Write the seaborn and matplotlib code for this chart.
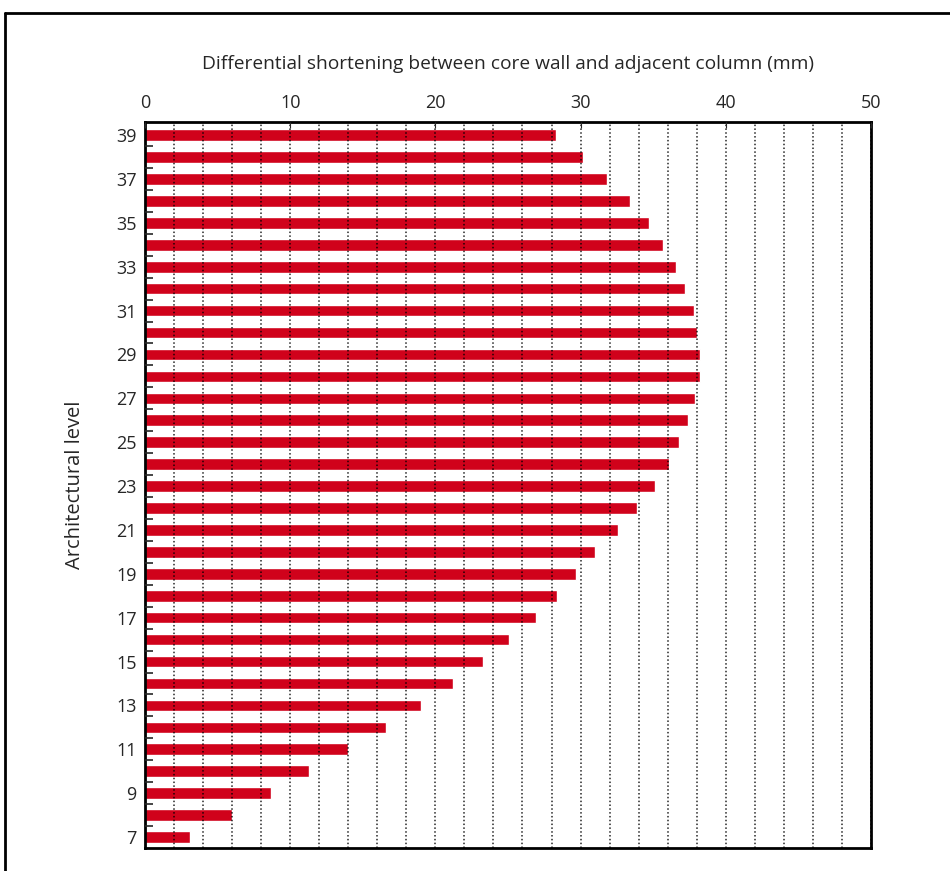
import numpy as np
import matplotlib.pyplot as plt
import pandas as pd
import seaborn as sns
from matplotlib.lines import Line2D


# data (top level 39 down to level 7)
levels = list(range(39, 6, -1))
shortening_mm = [28.3, 30.2, 31.8, 33.4, 34.7, 35.7, 36.6, 37.2, 37.8, 38.0,
                 38.2, 38.2, 37.9, 37.4, 36.8, 36.1, 35.1, 33.9, 32.6, 31.0,
                 29.7, 28.4, 26.9, 25.1, 23.3, 21.2, 19.0, 16.6, 14.0, 11.3,
                 8.7, 6.0, 3.1]
x_ticks = [0, 10, 20, 30, 40, 50]

df = pd.DataFrame({"level": [str(l) for l in levels], "mm": shortening_mm})

sns.set_style("white")
plt.rcParams["font.family"] = ["Open Sans", "DejaVu Sans"]

fig = plt.figure(figsize=(9.5, 8.71), dpi=100)
ax = fig.add_axes([0.1526, 0.0264, 0.9168 - 0.1526, 0.860 - 0.0264])

sns.barplot(x="mm", y="level", data=df, order=df["level"], orient="h",
            color="#d0021b", saturation=1, width=0.53, ax=ax, zorder=2)

# x axis on top, dotted grid every 2 mm
ax.set_xlim(0, 50)
ax.xaxis.tick_top()
ax.xaxis.set_label_position("top")
ax.set_xticks(x_ticks)
ax.set_xticks(np.arange(2, 50, 2), minor=True)
ax.grid(True, axis="x", which="both", color="black", linestyle=(0, (1, 1.5)),
        linewidth=1.1, alpha=0.85, zorder=3)
ax.set_axisbelow(False)
ax.tick_params(axis="x", which="major", direction="in", length=4, pad=7,
               labelsize=13, top=True, bottom=False)
ax.tick_params(axis="x", which="minor", length=0)
ax.set_xlabel("Differential shortening between core wall and adjacent column (mm)",
              fontsize=13.8, labelpad=18)

# y axis: labels on odd levels, small inward ticks between levels
n = len(levels)
ax.set_ylim(n - 0.5, -0.6)
ax.set_yticks([i for i, l in enumerate(levels) if l % 2 == 1])
ax.set_yticklabels([str(l) for l in levels if l % 2 == 1])
ax.set_yticks(np.arange(0.5, n - 1, 1), minor=True)
ax.tick_params(axis="y", which="major", length=0, pad=6, labelsize=13)
ax.tick_params(axis="y", which="minor", direction="in", length=6, width=1.2,
               left=True)
ax.set_ylabel("Architectural level", fontsize=14.5, labelpad=22)

for s in ax.spines.values():
    s.set_visible(True)
    s.set_color("black")
    s.set_linewidth(2)

# outer frame (only left and top edges show in the crop)
fig.add_artist(Line2D([0.0055, 0.0055], [0, 0.985], color="black", lw=2,
                      transform=fig.transFigure))
fig.add_artist(Line2D([0.0055, 1], [0.985, 0.985], color="black", lw=2,
                      transform=fig.transFigure))

plt.savefig("out.png", dpi=100)
